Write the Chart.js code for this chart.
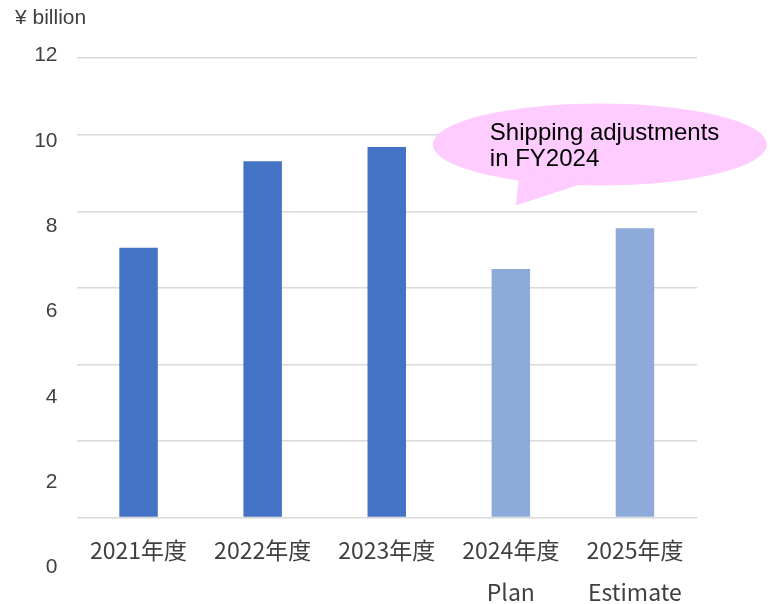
<!DOCTYPE html>
<html>
<head>
<meta charset="utf-8">
<script src="https://cdn.jsdelivr.net/npm/chart.js@4"></script>
<style>
  html, body { margin: 0; padding: 0; background: #fff; }
  #wrap { width: 770px; height: 604px; }
</style>
</head>
<body>
<div id="wrap"><canvas id="chart"></canvas></div>
<script>
// Chart data.
const categories = [['2021年度'], ['2022年度'], ['2023年度'], ['2024年度', 'Plan'], ['2025年度', 'Estimate']];
const values = [7.05, 9.31, 9.68, 6.49, 7.56];
const isForecast = [false, false, false, true, true];
const yTicks = [0, 2, 4, 6, 8, 10, 12];
const calloutLines = ['Shipping adjustments', 'in FY2024'];
const calloutIndex = 3;
const calloutValue = 8.15;

const actualColor = '#4472c4';
const forecastColor = '#8eaadb';
const textColor = '#404040';

// The tick labels in the source sit on a slightly stretched scale compared with the gridlines,
// so they live on their own axis whose range is stretched the same way.
const labelAxisMin = 1.17;
const labelAxisMax = 11.94;

// Speech bubble drawn on top of the chart, anchored to the 2024 bar.
const calloutPlugin = {
    id: 'callout',
    afterDraw(chart) {
        const ctx = chart.ctx;
        const x = chart.scales.x;
        const y = chart.scales.y;
        const tipX = x.getPixelForValue(calloutIndex) + 5;
        const tipY = y.getPixelForValue(calloutValue);
        const cx = tipX + 84;
        const cy = tipY - 61;

        ctx.save();
        ctx.fillStyle = '#ffccff';
        ctx.beginPath();
        ctx.ellipse(cx, cy, 167, 41, 0, 0, Math.PI * 2);
        ctx.fill();
        ctx.beginPath();
        ctx.moveTo(tipX + 3.5, cy + 30);
        ctx.lineTo(tipX, tipY);
        ctx.lineTo(tipX + 73, cy + 37);
        ctx.closePath();
        ctx.fill();

        ctx.fillStyle = '#000';
        ctx.font = '24px "Liberation Sans", Arial, sans-serif';
        ctx.textAlign = 'left';
        ctx.textBaseline = 'alphabetic';
        ctx.fillText(calloutLines[0], tipX - 26, cy - 5);
        ctx.fillText(calloutLines[1], tipX - 26, cy + 21);
        ctx.restore();
    }
};

new Chart(document.getElementById('chart'), {
    type: 'bar',
    data: {
        labels: categories,
        datasets: [{
            data: values,
            backgroundColor: isForecast.map(f => f ? forecastColor : actualColor),
            categoryPercentage: 1,
            barPercentage: 0.31,
            yAxisID: 'y'
        }]
    },
    options: {
        responsive: true,
        maintainAspectRatio: false,
        animation: false,
        layout: {
            padding: { left: 15, right: 73, top: 0, bottom: 0 }
        },
        plugins: {
            legend: { display: false },
            tooltip: { enabled: false },
            title: {
                display: true,
                text: '¥ billion',
                align: 'start',
                color: textColor,
                font: { family: '"Liberation Sans", Arial, sans-serif', size: 21, weight: 'normal', lineHeight: 1.2 },
                padding: { top: 6, bottom: 27 }
            }
        },
        scales: {
            x: {
                grid: { display: false, drawTicks: false },
                border: { display: false },
                ticks: {
                    color: textColor,
                    padding: 12,
                    maxRotation: 0,
                    autoSkip: false,
                    font: { family: '"Noto Sans CJK JP", "Noto Sans", sans-serif', size: 23, lineHeight: 42 / 23 }
                },
                afterFit(scale) {
                    scale.height = 86.5;
                }
            },
            yl: {
                position: 'left',
                min: labelAxisMin,
                max: labelAxisMax,
                grid: { display: false, drawTicks: false },
                border: { display: false },
                ticks: {
                    color: textColor,
                    padding: 19,
                    autoSkip: false,
                    font: { family: '"Liberation Sans", Arial, sans-serif', size: 21 }
                },
                afterBuildTicks(axis) {
                    axis.ticks = yTicks.map(v => ({ value: v }));
                },
                afterFit(scale) {
                    scale.width = 61.5;
                }
            },
            y: {
                position: 'left',
                min: 0,
                max: 12,
                ticks: { display: false, stepSize: 2 },
                grid: { color: '#d9d9d9', lineWidth: 1.5, drawTicks: false },
                border: { display: false }
            }
        }
    },
    plugins: [calloutPlugin]
});
</script>
</body>
</html>
